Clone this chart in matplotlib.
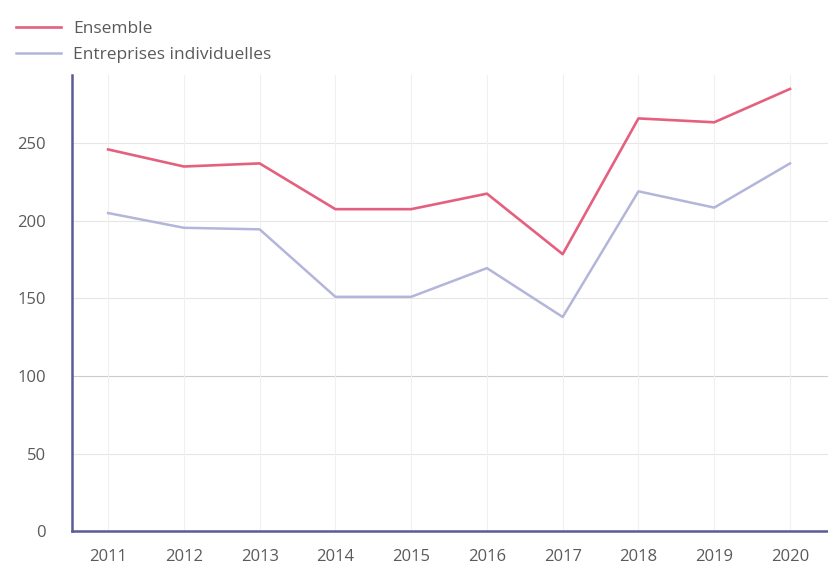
import matplotlib.pyplot as plt

plt.rcParams['font.family'] = ['Open Sans', 'DejaVu Sans']

years = [2011, 2012, 2013, 2014, 2015, 2016, 2017, 2018, 2019, 2020]
ensemble = [246, 235, 237, 207.5, 207.5, 217.5, 178.5, 266, 263.5, 285]
individuelles = [205, 195.5, 194.5, 151, 151, 169.5, 138, 219, 208.5, 237]
yticks = [0, 50, 100, 150, 200, 250]

PINK = "#e5607f"
LAVENDER = "#b3b6d9"
AXIS = "#5b5b98"
TEXT = "#5a5a5a"

fig = plt.figure(figsize=(8.29, 5.68), dpi=100)
ax = fig.add_axes([0.087, 0.065, 0.913, 0.803])

# faint grid first, the 100 line a bit stronger
for y in yticks[1:]:
    ax.axhline(y, color="#e6e6e6" if y != 100 else "#cccccc",
               lw=0.8, zorder=0)
for x in years:
    ax.axvline(x, color="#f0f0f0", lw=0.8, zorder=0)

ax.plot(years, individuelles, color=LAVENDER, lw=1.8,
        label="Entreprises individuelles", zorder=2)
ax.plot(years, ensemble, color=PINK, lw=1.9, label="Ensemble", zorder=3)

ax.set_xlim(2010.525, 2020.515)
ax.set_ylim(0, 294)
ax.set_xticks(years)
ax.set_yticks(yticks)
ax.tick_params(length=0, labelsize=12, colors=TEXT)
ax.tick_params(axis="y", pad=19)
ax.tick_params(axis="x", pad=13)

for side in ("top", "right"):
    ax.spines[side].set_visible(False)
for side in ("left", "bottom"):
    ax.spines[side].set_color(AXIS)
    ax.spines[side].set_linewidth(1.8)

handles, labels = ax.get_legend_handles_labels()
fig.legend(handles[::-1], labels[::-1], loc="upper left",
           bbox_to_anchor=(0.0, 0.99), frameon=False, fontsize=12.5,
           labelcolor=TEXT, handlelength=2.6, handletextpad=0.7,
           labelspacing=0.55)

fig.savefig("out.png", dpi=100)
